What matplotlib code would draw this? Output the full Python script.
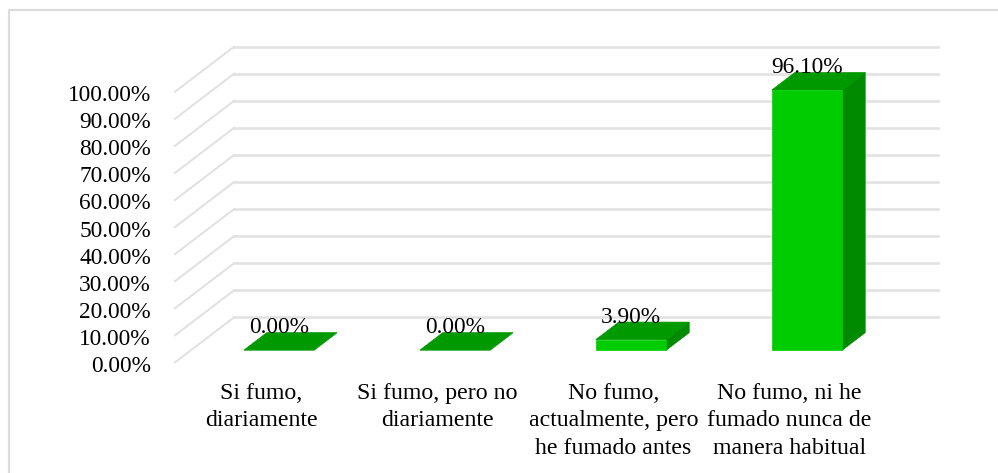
import matplotlib
matplotlib.use('Agg')
import matplotlib.pyplot as plt
from matplotlib.patches import Polygon
from matplotlib.lines import Line2D

categories = ['Si fumo,\ndiariamente', 'Si fumo, pero no\ndiariamente',
              'No fumo,\nactualmente, pero\nhe fumado antes',
              'No fumo, ni he\nfumado nunca de\nmanera habitual']
values = [0.0, 0.0, 3.9, 96.1]
value_labels = ['0.00%', '0.00%', '3.90%', '96.10%']
ticks = [0, 10, 20, 30, 40, 50, 60, 70, 80, 90, 100]

W, H = 998, 473
plt.rcParams['font.family'] = ['Liberation Serif', 'DejaVu Serif']
FS = 16.8

fig = plt.figure(figsize=(W / 100, H / 100), dpi=100)
# axes = back wall of the fake 3d box
left, right, top, bottom = 234, 938, 46.7, 317.4
ax = fig.add_axes([left / W, 1 - bottom / H, (right - left) / W, (bottom - top) / H])
ax.set_xlim(0, 4)
ax.set_ylim(0, 100)
ax.axis('off')

px_x = 4 / (right - left)
px_y = 100 / (bottom - top)


def proj(x, v, depth_x):
    # depth_x = pixels towards the viewer, y shift follows the box slope
    return x - depth_x * px_x, v - depth_x * (45 / 59) * px_y


FLOOR = 59
BAR_FRONT = 43
BAR_BACK = 20
BAR_W = 0.4

# frame, only top and left show
fig.add_artist(Line2D([9 / W, 9 / W, 1], [0, 1 - 10.5 / H, 1 - 10.5 / H], color='#dcdcdc', lw=1.6))

for t in ticks:
    ax.plot([0, 4], [t, t], color='#e2e2e2', lw=1.9, clip_on=False, zorder=1)
    xa, ya = proj(0, t, FLOOR)
    ax.plot([xa, 0], [ya, t], color='#e2e2e2', lw=1.5, clip_on=False, zorder=1)
    ax.text(xa - 24 * px_x, ya - 1.5 * px_y, '%.2f%%' % t, ha='right', va='center_baseline', fontsize=FS, color='black')

for i, v in enumerate(values):
    x0 = i + 0.5 - BAR_W / 2
    x1 = i + 0.5 + BAR_W / 2
    fl, ft = proj(x0, 0, BAR_FRONT), proj(x0, v, BAR_FRONT)
    fr, frt = proj(x1, 0, BAR_FRONT), proj(x1, v, BAR_FRONT)
    bl, br = proj(x0, v, BAR_BACK), proj(x1, v, BAR_BACK)
    bb = proj(x1, 0, BAR_BACK)
    if v > 0:
        ax.add_patch(Polygon([fr, frt, br, bb], closed=True, fc='#008a00', ec='#008a00', lw=0.5, clip_on=False, zorder=3))
        ax.add_patch(Polygon([fl, fr, frt, ft], closed=True, fc='#00cc00', ec='#00cc00', lw=0.5, clip_on=False, zorder=4))
    ax.add_patch(Polygon([ft, frt, br, bl], closed=True, fc='#009a00', ec='#009a00', lw=0.5, clip_on=False, zorder=3))
    tx, ty = proj(i + 0.5, v, BAR_FRONT)
    ax.annotate(value_labels[i], (tx, ty), xytext=(0, 25), textcoords='offset pixels',
                ha='center', va='center_baseline', fontsize=FS, color='black', zorder=5,
                annotation_clip=False)

for i, c in enumerate(categories):
    tx, ty = proj(i + 0.5, 0, FLOOR)
    ax.annotate(c, (tx, ty), xytext=(-1.5, -20.5), textcoords='offset pixels', ha='center', va='top',
                fontsize=17.2, color='black', linespacing=1.4, annotation_clip=False)

fig.savefig('out.png', dpi=100)
